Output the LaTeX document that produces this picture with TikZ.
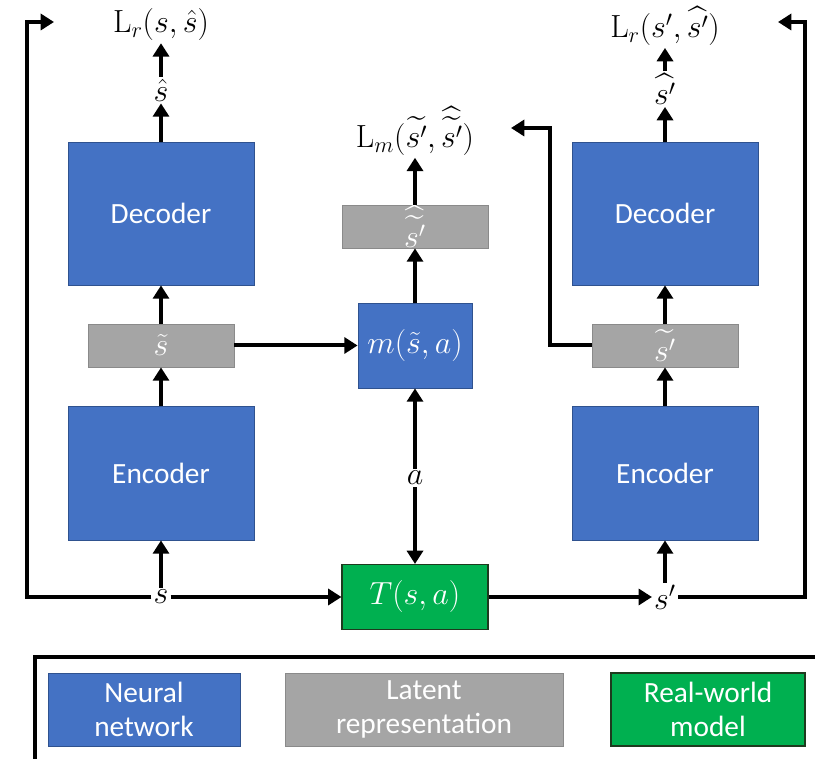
\RequirePackage{fix-cm}
\documentclass[tikz,border=0pt]{standalone}
\usepackage{amsmath}
\usepackage{fontspec}
\newfontfamily\calib{Carlito}
\usetikzlibrary{arrows.meta}

\definecolor{nnblue}{HTML}{4472C4}
\definecolor{nnedge}{HTML}{2F528F}
\definecolor{latgray}{HTML}{A5A5A5}
\definecolor{latedge}{HTML}{8A8A8A}
\definecolor{rwgreen}{HTML}{00B050}
\definecolor{rwedge}{HTML}{1E3A1E}

\tikzset{
  nnbox/.style={draw=nnedge, fill=nnblue, text=white, line width=0.6pt, inner sep=0pt},
  latbox/.style={draw=latedge, fill=latgray, text=white, line width=0.6pt, inner sep=0pt,
    minimum width=109.5pt, minimum height=32.25pt},
  rwbox/.style={draw=rwedge, fill=rwgreen, text=white, line width=0.8pt, inner sep=0pt},
  lbl/.style={inner sep=1.5pt},
  flow/.style={line width=3pt, -{Triangle[length=10pt,width=12pt]}},
  plain/.style={line width=3pt},
  words/.style={font=\calib\fontsize{22}{26}\selectfont},
}

\begin{document}
\begin{tikzpicture}[x=0.75pt, y=-0.75pt, line join=miter,
    font=\fontsize{24}{28}\selectfont]
  \useasboundingbox (0,0) rectangle (815,759);
  \def\colL{161}
  \def\colM{415}
  \def\colR{665}
  \def\yflow{597}

  % encoder / decoder on the left
  \node[nnbox, words, minimum width=139.5pt, minimum height=107.25pt] (dec1) at (\colL,213.5) {Decoder};
  \node[latbox] (lat1) at (\colL,345.5) {$\tilde{s}$};
  \node[nnbox, words, minimum width=139.5pt, minimum height=100.5pt] (enc1) at (\colL,473) {Encoder};
  \node[lbl] (shat1) at (\colL,90) {$\hat{s}$};
  \node[lbl] (loss1) at (\colL,25) {$\mathrm{L}_r(s,\hat{s})$};
  \node[lbl, fill=white] (sL) at (\colL,\yflow) {$s$};

  % encoder / decoder on the right
  \node[nnbox, words, minimum width=139.5pt, minimum height=107.25pt] (dec2) at (\colR,213.5) {Decoder};
  \node[latbox] (lat2) at (\colR,345.5) {$\widetilde{s'}$};
  \node[nnbox, words, minimum width=139.5pt, minimum height=100.5pt] (enc2) at (\colR,473) {Encoder};
  \node[lbl] (shat2) at (\colR,89) {$\widehat{s'}$};
  \node[lbl] (loss2) at (\colR,26) {$\mathrm{L}_r(s',\widehat{s'})$};
  \node[lbl, fill=white] (spL) at (\colR,\yflow) {$s'$};

  % transition model in the middle
  \node[nnbox, minimum width=85.5pt, minimum height=63.75pt] (trans) at (\colM,345.5) {$m(\tilde{s},a)$};
  \node[latbox] (lat3) at (\colM,226.5) {$\widehat{\widetilde{s'}}$};
  \node[lbl] (loss3) at (\colM,131) {$\mathrm{L}_m(\widetilde{s'},\widehat{\widetilde{s'}})$};
  \node[rwbox, minimum width=109.5pt, minimum height=48.75pt] (env) at (\colM,\yflow) {$T(s,a)$};
  \node[lbl, fill=white] (aL) at (\colM,478) {$a$};

  \coordinate (fbL) at (27,22);
  \coordinate (fbLend) at (54,22);
  \coordinate (fbR) at (805,22);
  \coordinate (fbRend) at (778,22);
  \coordinate (mBend) at (550,128);
  \coordinate (mEnd) at (511,128);

  % left column
  \draw[flow] (sL.north) -- (enc1.south);
  \draw[flow] (enc1.north) -- (lat1.south);
  \draw[flow] (lat1.north) -- (dec1.south);
  \draw[flow] (dec1.north) -- (shat1.south);
  \draw[flow] (shat1.north) -- (loss1.south);
  \draw[flow] (sL.west) -| (fbL) -- (fbLend);

  % right column
  \draw[flow] (spL.north) -- (enc2.south);
  \draw[flow] (enc2.north) -- (lat2.south);
  \draw[flow] (lat2.north) -- (dec2.south);
  \draw[flow] (dec2.north) -- (shat2.south);
  \draw[flow] (shat2.north) -- (loss2.south);
  \draw[flow] (spL.east) -| (fbR) -- (fbRend);
  \draw[flow] (lat2.west) -| (mBend) -- (mEnd);

  % middle
  \draw[flow] (sL.east) -- (env.west);
  \draw[flow] (env.east) -- (spL.west);
  \draw[flow] (lat1.east) -- (trans.west);
  \draw[flow] (aL.north) -- (trans.south);
  \draw[flow] (aL.south) -- (env.north);
  \draw[flow] (trans.north) -- (lat3.south);
  \draw[flow] (lat3.north) -- (loss3.south);

  % legend
  \draw[plain] (35,770) -- (35,657) -- (830,657);
  \begin{scope}[words]
    \node[nnbox, minimum width=144pt, minimum height=54.75pt, align=center] (keyNN) at (144,709.5) {Neural\\network};
    \node[latbox, minimum width=208.5pt, minimum height=54.75pt, align=center] (keyLat) at (424,709.5) {Latent\\representation};
    \node[rwbox, minimum width=145.5pt, minimum height=54.75pt, align=center] (keyRW) at (708,709.5) {Real-world\\model};
  \end{scope}
\end{tikzpicture}
\end{document}
